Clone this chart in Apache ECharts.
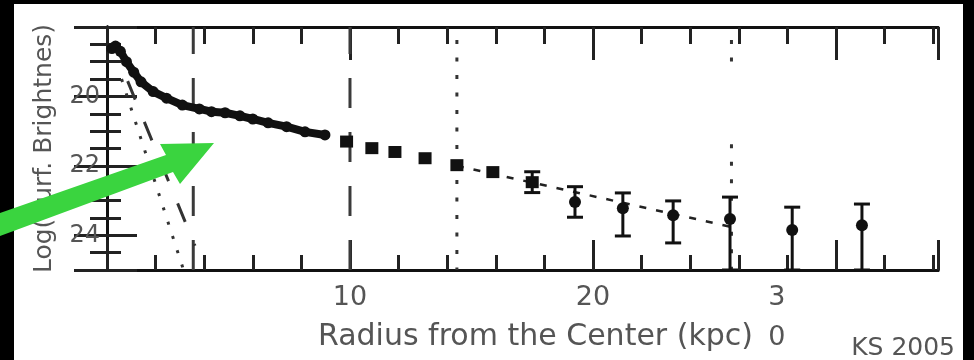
<!DOCTYPE html>
<html>
<head>
<meta charset="utf-8">
<script src="https://cdn.jsdelivr.net/npm/echarts@6/dist/echarts.min.js"></script>
<style>
  html, body { margin: 0; padding: 0; background: #fff; }
  #chart { width: 974px; height: 360px; }
</style>
</head>
<body>
<div id="chart"></div>
<script>
// Surface brightness profile (mag/arcsec^2, brighter = up) against radius in kpc.

// Axis extents and tick labels
const xMin = 0, xMax = 34.2;
const yMin = 18, yMax = 25;
const xTickValues = [10, 20, 30];
const xTickLabels = ['10', '20', '30'];
const yTickValues = [20, 22, 24];
const yTickLabels = ['20', '22', '24'];

// Inner, densely sampled profile
const innerR  = [0.2, 0.35, 0.55, 0.8, 1.1, 1.4, 1.9, 2.45, 3.1, 3.8, 4.3, 4.86, 5.47, 6.0, 6.63, 7.39, 8.15, 8.97];
const innerMu = [18.62, 18.55, 18.7, 19.0, 19.3, 19.58, 19.86, 20.05, 20.25, 20.36, 20.44, 20.47, 20.56, 20.65, 20.76, 20.87, 21.02, 21.11];

// Binned points (square markers)
const binR  = [9.86, 10.9, 11.85, 13.09, 14.4, 15.88, 17.5];
const binMu = [21.3, 21.49, 21.6, 21.78, 21.98, 22.18, 22.47];

// Outer points (round markers)
const outerR  = [19.26, 21.23, 23.3, 25.64, 28.2, 31.07];
const outerMu = [23.04, 23.22, 23.42, 23.53, 23.85, 23.71];

// Error bars: radius, bright end, faint end
const errR      = [17.5, 19.26, 21.23, 23.3, 25.64, 28.2, 31.07];
const errBright = [22.17, 22.6, 22.78, 23.01, 22.9, 23.19, 23.1];
const errFaint  = [22.77, 23.48, 24.02, 24.22, 25.0, 25.0, 25.0];

// Exponential fit over the outer range
const fitR  = [14.4, 25.7];
const fitMu = [22.0, 23.76];

// Central component models
const compAR  = [0.6, 3.15];
const compAMu = [19.5, 25.0];
const compBR  = [0.85, 3.62];
const compBMu = [19.56, 24.3];

// Vertical guide lines
const dashedGuides = [3.55, 10];
const dottedGuides = [[14.4, 18, 25], [25.7, 18, 19.0], [25.7, 21.0, 25]];

const FONT = 'DejaVu Sans';
const INK = '#111';
const TEXT = '#555';
const GRID = { left: 107, top: 27, right: 36, bottom: 90, containLabel: false, outerBoundsMode: 'none' };

const pairs = (xs, ys) => xs.map((x, i) => [x, ys[i]]);

function xAxisDef(gridIndex, position, interval, tickLen, labels) {
  const ax = {
    type: 'value', gridIndex, position, min: xMin, max: xMax, interval,
    axisLine: { show: true, lineStyle: { color: INK, width: 3 } },
    axisTick: { show: true, inside: true, length: tickLen, lineStyle: { color: '#222', width: 3 } },
    splitLine: { show: false },
    axisLabel: { show: false }
  };
  if (labels) {
    ax.axisLabel = {
      show: true, margin: 8,
      formatter: v => {
        const i = xTickValues.indexOf(v);
        if (i < 0) return '';
        const s = xTickLabels[i];
        // the 30 label is set in two stacked lines, pulled left of its tick
        return v === 30 ? s.split('').map(c => '{w|' + c + '}').join('\n') : '{n|' + s + '}';
      },
      rich: {
        n: { fontFamily: FONT, fontSize: 27, lineHeight: 40, color: TEXT },
        w: { fontFamily: FONT, fontSize: 27, lineHeight: 40, color: TEXT, padding: [0, 118, 0, 0] }
      }
    };
    ax.name = 'Radius from the Center (kpc)';
    ax.nameLocation = 'middle';
    ax.nameGap = 52;
    ax.nameMoveOverlap = false;
    ax.nameTextStyle = { fontFamily: FONT, fontSize: 30, color: TEXT, padding: [0, 0, 0, 26] };
  }
  return ax;
}

function yAxisDef(gridIndex, position, interval, tickLen, labels) {
  const ax = {
    type: 'value', gridIndex, position, min: yMin, max: yMax, interval, inverse: true,
    axisLine: { show: true, lineStyle: { color: INK, width: 3 } },
    axisTick: { show: true, inside: true, length: tickLen, lineStyle: { color: '#222', width: 3 } },
    splitLine: { show: false },
    axisLabel: { show: false }
  };
  if (labels) {
    ax.axisLabel = {
      show: true, margin: 7, fontFamily: FONT, fontSize: 24, color: TEXT,
      formatter: v => { const i = yTickValues.indexOf(v); return i < 0 ? '' : yTickLabels[i]; }
    };
    ax.name = 'Log(Surf. Brightnes)';
    ax.nameLocation = 'middle';
    ax.nameGap = 50;
    ax.nameMoveOverlap = false;
    ax.nameTextStyle = { fontFamily: FONT, fontSize: 25, color: TEXT };
  }
  return ax;
}

const series = [];

// model components near the centre
series.push({
  type: 'line', data: pairs(compAR, compAMu), symbol: 'none', z: 2,
  lineStyle: { color: '#333', width: 3, type: [3, 12] }
});
series.push({
  type: 'line', data: pairs(compBR, compBMu), symbol: 'none', z: 2,
  lineStyle: { color: '#333', width: 3, type: [20, 24] }
});

// vertical guides
dashedGuides.forEach(v => series.push({
  type: 'line', data: [[v, yMin], [v, yMax]], symbol: 'none', z: 1,
  lineStyle: { color: '#3a3a3a', width: 3, type: [30, 24], dashOffset: 3 }
}));
dottedGuides.forEach(([v, a, b]) => series.push({
  type: 'line', data: [[v, a], [v, b]], symbol: 'none', z: 1,
  lineStyle: { color: '#333', width: 3, type: [4, 13.5], dashOffset: 4.5 }
}));

// fit line
series.push({
  type: 'line', data: pairs(fitR, fitMu), symbol: 'none', z: 3,
  lineStyle: { color: '#222', width: 2.5, type: [7, 10] }
});

// error bars
series.push({
  type: 'custom', z: 4, clip: true,
  data: errR.map((r, i) => [r, errBright[i], errFaint[i]]),
  encode: { x: 0, y: [1, 2] },
  renderItem: (params, api) => {
    const a = api.coord([api.value(0), api.value(1)]);
    const b = api.coord([api.value(0), api.value(2)]);
    const hw = 8;
    const st = { stroke: INK, lineWidth: 3 };
    return {
      type: 'group',
      children: [
        { type: 'line', shape: { x1: a[0], y1: a[1], x2: b[0], y2: b[1] }, style: st },
        { type: 'line', shape: { x1: a[0] - hw, y1: a[1], x2: a[0] + hw, y2: a[1] }, style: st },
        { type: 'line', shape: { x1: b[0] - hw, y1: b[1], x2: b[0] + hw, y2: b[1] }, style: st }
      ]
    };
  }
});

// inner profile
series.push({
  type: 'line', data: pairs(innerR, innerMu), z: 5,
  symbol: 'circle', symbolSize: 11, showSymbol: true, showAllSymbol: true,
  lineStyle: { color: INK, width: 8 }, itemStyle: { color: INK, opacity: 1 }
});

// binned points
series.push({
  type: 'scatter', data: pairs(binR, binMu), z: 5,
  symbol: 'rect', symbolSize: [13, 12], itemStyle: { color: INK, opacity: 1 }
});

// outer points
series.push({
  type: 'scatter', data: pairs(outerR, outerMu), z: 5,
  symbol: 'circle', symbolSize: 12, itemStyle: { color: INK, opacity: 1 }
});

const option = {
  animation: false,
  backgroundColor: '#fff',
  grid: [Object.assign({}, GRID), Object.assign({}, GRID)],
  xAxis: [
    xAxisDef(0, 'bottom', 10, 30, true),
    xAxisDef(0, 'top', 10, 33, false),
    xAxisDef(1, 'bottom', 2, 15, false),
    xAxisDef(1, 'top', 2, 17, false)
  ],
  yAxis: [
    yAxisDef(0, 'left', 2, 30, true),
    yAxisDef(0, 'right', 2, 33, false),
    yAxisDef(1, 'left', 0.5, 14, false),
    yAxisDef(1, 'right', 0.5, 17, false)
  ],
  series: series,
  graphic: [
    { type: 'rect', left: 0, top: 0, shape: { width: 974, height: 4 }, style: { fill: '#000' }, z: 50 },
    { type: 'rect', left: 0, top: 0, shape: { width: 14, height: 360 }, style: { fill: '#000' }, z: 50 },
    { type: 'rect', left: 963, top: 0, shape: { width: 11, height: 360 }, style: { fill: '#000' }, z: 50 },
    {
      type: 'text', x: 955, y: 361, z: 50,
      style: { text: 'KS 2005', fontFamily: FONT, fontSize: 25, fill: TEXT, align: 'right', verticalAlign: 'bottom' }
    },
    {
      type: 'polygon', z: 60,
      shape: { points: [[0, 213], [166, 155], [160, 144], [214, 143], [180, 184], [173, 172], [0, 236]] },
      style: { fill: '#3ad43f' }
    }
  ]
};

const chart = echarts.init(document.getElementById('chart'), null, { renderer: 'canvas' });
chart.setOption(option);
</script>
</body>
</html>
